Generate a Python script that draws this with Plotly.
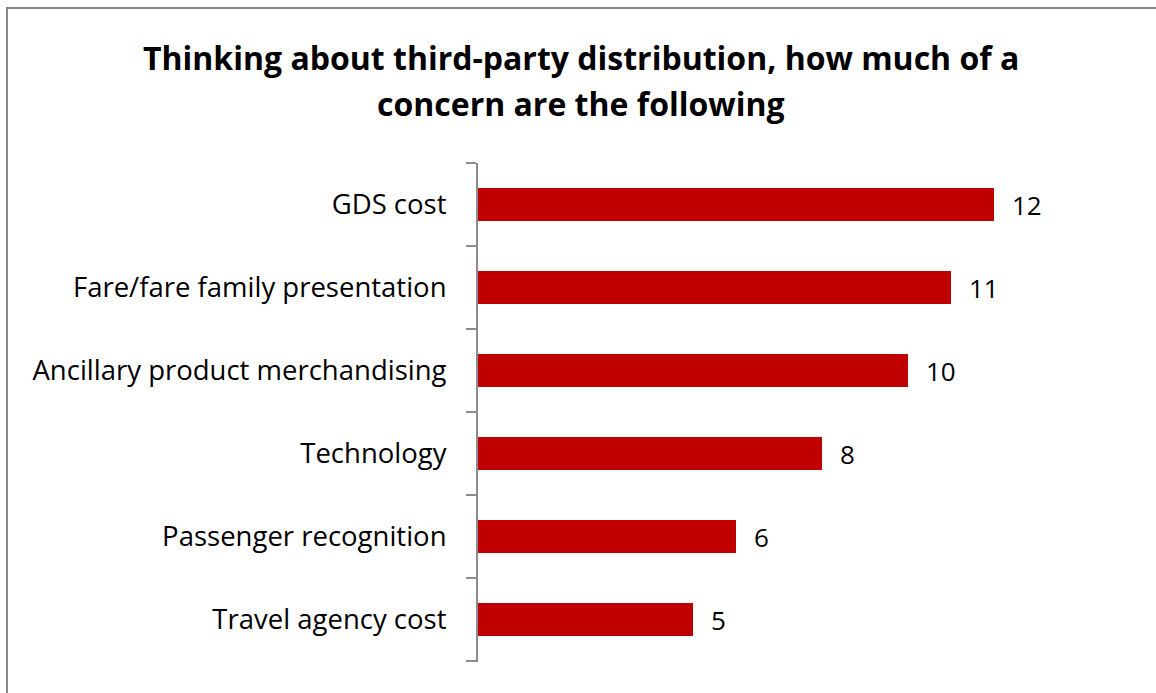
import plotly.graph_objects as go

categories = [
    "GDS cost",
    "Fare/fare family presentation",
    "Ancillary product merchandising",
    "Technology",
    "Passenger recognition",
    "Travel agency cost",
]
values = [12, 11, 10, 8, 6, 5]
title_lines = [
    "Thinking about third-party distribution, how much of a",
    "concern are the following",
]

FONT = "Open Sans"
W, H = 1156, 693
L, R, T, B = 478, 1080, 163, 661

fig = go.Figure()
fig.add_trace(go.Bar(
    x=values, y=categories, orientation="h",
    marker=dict(color="#C00000", line=dict(width=0)),
    width=0.4,
    hoverinfo="skip",
))

for c, v in zip(categories, values):
    fig.add_annotation(x=v, y=c, text=str(v), showarrow=False,
                       xanchor="left", xshift=16,
                       font=dict(family=FONT, size=26, color="#000000"))

px = lambda p: (p - L) / (R - L)
py = lambda p: (B - p) / (B - T)
fig.add_shape(type="rect", xref="paper", yref="paper",
              x0=px(7), x1=px(1170), y0=py(705), y1=py(8),
              line=dict(color="#878787", width=2), layer="below")
# closing boundary tick at the bottom of the category axis
fig.add_shape(type="line", xref="paper", yref="paper",
              x0=px(466), x1=px(478), y0=0, y1=0,
              line=dict(color="#8C8C8C", width=2))

for line, yc in zip(title_lines, [57, 103]):
    fig.add_annotation(xref="paper", yref="paper", x=px(581), y=py(yc),
                       text="<b>" + line + "</b>",
                       showarrow=False, xanchor="center", yanchor="middle",
                       font=dict(family=FONT, size=32, color="#000000"))

fig.update_layout(
    width=W, height=H,
    margin=dict(l=L, r=W - R, t=T, b=H - B, pad=0),
    paper_bgcolor="white", plot_bgcolor="white",
    showlegend=False,
    bargap=0.6,
    xaxis=dict(range=[0, 14], visible=False, fixedrange=True),
    yaxis=dict(
        type="category", range=[5.5, -0.5],
        showline=True, linecolor="#8C8C8C", linewidth=2,
        ticks="outside", tickson="boundaries", ticklen=10,
        tickcolor="#8C8C8C", tickwidth=2,
        ticklabelstandoff=24,
        tickfont=dict(family=FONT, size=27.5, color="#000000"),
        showgrid=False, zeroline=False, fixedrange=True,
    ),
)

fig.write_html("out.html")
